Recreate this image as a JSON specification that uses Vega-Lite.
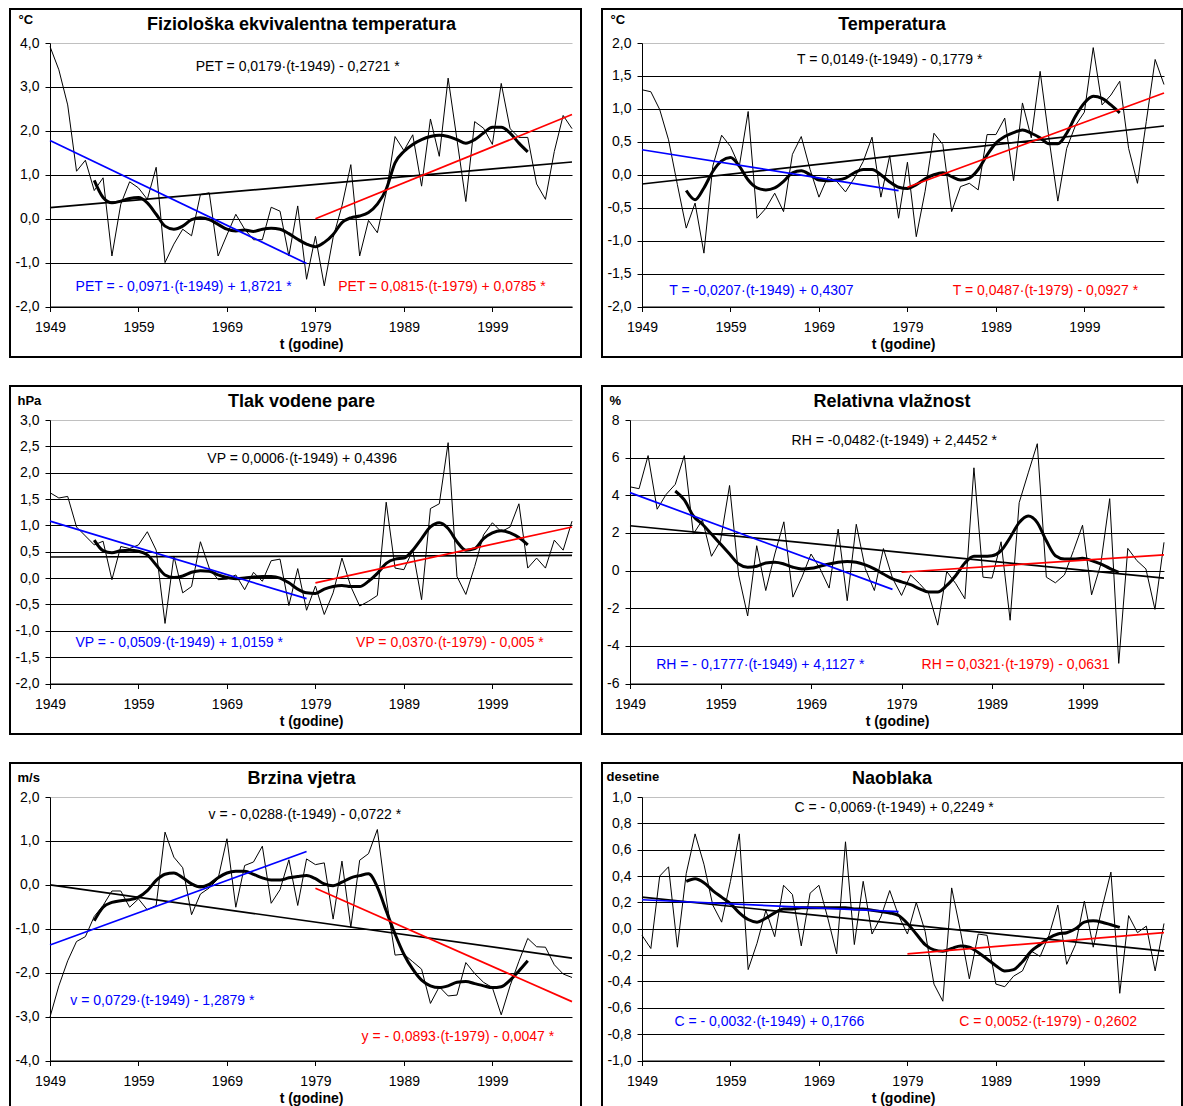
{
"$schema": "https://vega.github.io/schema/vega-lite/v6.json",
"padding": {"left": 9, "top": 8, "right": 0, "bottom": 0},
"config": {
 "view": {"stroke": "#000000", "strokeWidth": 2},
 "font": "Liberation Sans",
 "locale": {"number": {"decimal": ",", "thousands": ".", "grouping": [3], "currency": ["", ""], "minus": "-"}},
 "axis": {"labelFont": "Liberation Sans", "titleFont": "Liberation Sans", "labelColor": "#000000", "titleColor": "#000000", "domainColor": "#000000", "tickColor": "#000000", "labelFontSize": 14, "titleFontSize": 14, "titleFontWeight": "bold", "tickSize": 5, "domainWidth": 1, "tickWidth": 1, "gridWidth": 1, "labelOverlap": false},
 "axisX": {"labelPadding": 9, "titleY": 38, "titleBaseline": "middle"},
 "title": {"font": "Liberation Sans", "fontSize": 18, "fontWeight": "bold", "color": "#000000", "offset": 0, "baseline": "middle", "dy": 29}
},
"datasets": {
 "obs": [
  {"p":"PET","t":1949,"v":3.92},{"p":"PET","t":1950,"v":3.39},{"p":"PET","t":1951,"v":2.59},{"p":"PET","t":1952,"v":1.08},{"p":"PET","t":1953,"v":1.33},{"p":"PET","t":1954,"v":0.64},{"p":"PET","t":1955,"v":0.93},{"p":"PET","t":1956,"v":-0.85},{"p":"PET","t":1957,"v":0.33},{"p":"PET","t":1958,"v":0.84},
  {"p":"PET","t":1959,"v":0.70},{"p":"PET","t":1960,"v":0.44},{"p":"PET","t":1961,"v":1.17},{"p":"PET","t":1962,"v":-1.00},{"p":"PET","t":1963,"v":-0.58},{"p":"PET","t":1964,"v":-0.24},{"p":"PET","t":1965,"v":-0.39},{"p":"PET","t":1966,"v":0.55},{"p":"PET","t":1967,"v":0.59},{"p":"PET","t":1968,"v":-0.85},
  {"p":"PET","t":1969,"v":-0.37},{"p":"PET","t":1970,"v":0.10},{"p":"PET","t":1971,"v":-0.24},{"p":"PET","t":1972,"v":-0.48},{"p":"PET","t":1973,"v":-0.48},{"p":"PET","t":1974,"v":0.26},{"p":"PET","t":1975,"v":0.17},{"p":"PET","t":1976,"v":-0.85},{"p":"PET","t":1977,"v":0.29},{"p":"PET","t":1978,"v":-1.38},
  {"p":"PET","t":1979,"v":-0.40},{"p":"PET","t":1980,"v":-1.53},{"p":"PET","t":1981,"v":-0.43},{"p":"PET","t":1982,"v":0.29},{"p":"PET","t":1983,"v":1.23},{"p":"PET","t":1984,"v":-0.85},{"p":"PET","t":1985,"v":-0.04},{"p":"PET","t":1986,"v":-0.32},{"p":"PET","t":1987,"v":0.59},{"p":"PET","t":1988,"v":1.87},
  {"p":"PET","t":1989,"v":1.55},{"p":"PET","t":1990,"v":1.91},{"p":"PET","t":1991,"v":0.74},{"p":"PET","t":1992,"v":2.27},{"p":"PET","t":1993,"v":1.42},{"p":"PET","t":1994,"v":3.20},{"p":"PET","t":1995,"v":1.80},{"p":"PET","t":1996,"v":0.39},{"p":"PET","t":1997,"v":2.21},{"p":"PET","t":1998,"v":2.06},
  {"p":"PET","t":1999,"v":1.69},{"p":"PET","t":2000,"v":3.08},{"p":"PET","t":2001,"v":2.05},{"p":"PET","t":2002,"v":1.85},{"p":"PET","t":2003,"v":1.85},{"p":"PET","t":2004,"v":0.79},{"p":"PET","t":2005,"v":0.44},{"p":"PET","t":2006,"v":1.53},{"p":"PET","t":2007,"v":2.35},{"p":"PET","t":2008,"v":2.05},

  {"p":"T","t":1949,"v":1.29},{"p":"T","t":1950,"v":1.26},{"p":"T","t":1951,"v":0.99},{"p":"T","t":1952,"v":0.53},{"p":"T","t":1953,"v":-0.15},{"p":"T","t":1954,"v":-0.81},{"p":"T","t":1955,"v":-0.43},{"p":"T","t":1956,"v":-1.19},{"p":"T","t":1957,"v":0.13},{"p":"T","t":1958,"v":0.60},
  {"p":"T","t":1959,"v":0.43},{"p":"T","t":1960,"v":0.13},{"p":"T","t":1961,"v":0.96},{"p":"T","t":1962,"v":-0.66},{"p":"T","t":1963,"v":-0.51},{"p":"T","t":1964,"v":-0.28},{"p":"T","t":1965,"v":-0.56},{"p":"T","t":1966,"v":0.31},{"p":"T","t":1967,"v":0.58},{"p":"T","t":1968,"v":0.08},
  {"p":"T","t":1969,"v":-0.34},{"p":"T","t":1970,"v":-0.03},{"p":"T","t":1971,"v":-0.10},{"p":"T","t":1972,"v":-0.26},{"p":"T","t":1973,"v":-0.05},{"p":"T","t":1974,"v":0.20},{"p":"T","t":1975,"v":0.57},{"p":"T","t":1976,"v":-0.34},{"p":"T","t":1977,"v":0.29},{"p":"T","t":1978,"v":-0.66},
  {"p":"T","t":1979,"v":0.19},{"p":"T","t":1980,"v":-0.94},{"p":"T","t":1981,"v":-0.25},{"p":"T","t":1982,"v":0.63},{"p":"T","t":1983,"v":0.46},{"p":"T","t":1984,"v":-0.56},{"p":"T","t":1985,"v":-0.18},{"p":"T","t":1986,"v":-0.13},{"p":"T","t":1987,"v":-0.23},{"p":"T","t":1988,"v":0.61},
  {"p":"T","t":1989,"v":0.61},{"p":"T","t":1990,"v":0.86},{"p":"T","t":1991,"v":-0.09},{"p":"T","t":1992,"v":1.09},{"p":"T","t":1993,"v":0.56},{"p":"T","t":1994,"v":1.57},{"p":"T","t":1995,"v":0.55},{"p":"T","t":1996,"v":-0.40},{"p":"T","t":1997,"v":0.40},{"p":"T","t":1998,"v":0.75},
  {"p":"T","t":1999,"v":0.95},{"p":"T","t":2000,"v":1.93},{"p":"T","t":2001,"v":1.06},{"p":"T","t":2002,"v":1.21},{"p":"T","t":2003,"v":1.42},{"p":"T","t":2004,"v":0.40},{"p":"T","t":2005,"v":-0.13},{"p":"T","t":2006,"v":0.81},{"p":"T","t":2007,"v":1.75},{"p":"T","t":2008,"v":1.37},

  {"p":"VP","t":1949,"v":1.62},{"p":"VP","t":1950,"v":1.52},{"p":"VP","t":1951,"v":1.55},{"p":"VP","t":1952,"v":0.97},{"p":"VP","t":1953,"v":0.80},{"p":"VP","t":1954,"v":0.63},{"p":"VP","t":1955,"v":0.70},{"p":"VP","t":1956,"v":-0.03},{"p":"VP","t":1957,"v":0.60},{"p":"VP","t":1958,"v":0.56},
  {"p":"VP","t":1959,"v":0.63},{"p":"VP","t":1960,"v":0.88},{"p":"VP","t":1961,"v":0.53},{"p":"VP","t":1962,"v":-0.86},{"p":"VP","t":1963,"v":0.42},{"p":"VP","t":1964,"v":-0.28},{"p":"VP","t":1965,"v":-0.16},{"p":"VP","t":1966,"v":0.69},{"p":"VP","t":1967,"v":0.19},{"p":"VP","t":1968,"v":-0.03},
  {"p":"VP","t":1969,"v":-0.02},{"p":"VP","t":1970,"v":0.06},{"p":"VP","t":1971,"v":-0.22},{"p":"VP","t":1972,"v":0.11},{"p":"VP","t":1973,"v":-0.06},{"p":"VP","t":1974,"v":0.33},{"p":"VP","t":1975,"v":0.36},{"p":"VP","t":1976,"v":-0.52},{"p":"VP","t":1977,"v":0.18},{"p":"VP","t":1978,"v":-0.61},
  {"p":"VP","t":1979,"v":-0.15},{"p":"VP","t":1980,"v":-0.69},{"p":"VP","t":1981,"v":-0.28},{"p":"VP","t":1982,"v":0.38},{"p":"VP","t":1983,"v":-0.16},{"p":"VP","t":1984,"v":-0.53},{"p":"VP","t":1985,"v":-0.44},{"p":"VP","t":1986,"v":-0.33},{"p":"VP","t":1987,"v":1.44},{"p":"VP","t":1988,"v":0.19},
  {"p":"VP","t":1989,"v":0.16},{"p":"VP","t":1990,"v":0.53},{"p":"VP","t":1991,"v":-0.41},{"p":"VP","t":1992,"v":1.32},{"p":"VP","t":1993,"v":1.41},{"p":"VP","t":1994,"v":2.57},{"p":"VP","t":1995,"v":0.03},{"p":"VP","t":1996,"v":-0.31},{"p":"VP","t":1997,"v":0.22},{"p":"VP","t":1998,"v":0.82},
  {"p":"VP","t":1999,"v":1.05},{"p":"VP","t":2000,"v":0.88},{"p":"VP","t":2001,"v":0.97},{"p":"VP","t":2002,"v":1.41},{"p":"VP","t":2003,"v":0.19},{"p":"VP","t":2004,"v":0.38},{"p":"VP","t":2005,"v":0.19},{"p":"VP","t":2006,"v":0.72},{"p":"VP","t":2007,"v":0.53},{"p":"VP","t":2008,"v":1.08},

  {"p":"RH","t":1949,"v":4.45},{"p":"RH","t":1950,"v":4.35},{"p":"RH","t":1951,"v":6.11},{"p":"RH","t":1952,"v":3.26},{"p":"RH","t":1953,"v":4.05},{"p":"RH","t":1954,"v":4.58},{"p":"RH","t":1955,"v":6.11},{"p":"RH","t":1956,"v":1.94},{"p":"RH","t":1957,"v":2.69},{"p":"RH","t":1958,"v":0.76},
  {"p":"RH","t":1959,"v":1.58},{"p":"RH","t":1960,"v":4.52},{"p":"RH","t":1961,"v":-0.23},{"p":"RH","t":1962,"v":-2.41},{"p":"RH","t":1963,"v":1.32},{"p":"RH","t":1964,"v":-1.06},{"p":"RH","t":1965,"v":0.88},{"p":"RH","t":1966,"v":2.59},{"p":"RH","t":1967,"v":-1.41},{"p":"RH","t":1968,"v":-0.35},
  {"p":"RH","t":1969,"v":0.88},{"p":"RH","t":1970,"v":0.10},{"p":"RH","t":1971,"v":-0.93},{"p":"RH","t":1972,"v":2.20},{"p":"RH","t":1973,"v":-1.60},{"p":"RH","t":1974,"v":2.46},{"p":"RH","t":1975,"v":0.10},{"p":"RH","t":1976,"v":-1.06},{"p":"RH","t":1977,"v":1.17},{"p":"RH","t":1978,"v":-0.40},
  {"p":"RH","t":1979,"v":-1.32},{"p":"RH","t":1980,"v":-0.23},{"p":"RH","t":1981,"v":-0.70},{"p":"RH","t":1982,"v":-1.23},{"p":"RH","t":1983,"v":-2.90},{"p":"RH","t":1984,"v":-0.05},{"p":"RH","t":1985,"v":-0.70},{"p":"RH","t":1986,"v":-1.50},{"p":"RH","t":1987,"v":5.46},{"p":"RH","t":1988,"v":-0.35},
  {"p":"RH","t":1989,"v":-0.40},{"p":"RH","t":1990,"v":1.53},{"p":"RH","t":1991,"v":-2.64},{"p":"RH","t":1992,"v":3.61},{"p":"RH","t":1993,"v":5.19},{"p":"RH","t":1994,"v":6.74},{"p":"RH","t":1995,"v":-0.35},{"p":"RH","t":1996,"v":-0.65},{"p":"RH","t":1997,"v":-0.23},{"p":"RH","t":1998,"v":1.06},
  {"p":"RH","t":1999,"v":2.41},{"p":"RH","t":2000,"v":-1.29},{"p":"RH","t":2001,"v":0.30},{"p":"RH","t":2002,"v":3.82},{"p":"RH","t":2003,"v":-4.93},{"p":"RH","t":2004,"v":1.18},{"p":"RH","t":2005,"v":0.53},{"p":"RH","t":2006,"v":0.09},{"p":"RH","t":2007,"v":-2.06},{"p":"RH","t":2008,"v":1.50},

  {"p":"W","t":1949,"v":-3.01},{"p":"W","t":1950,"v":-2.30},{"p":"W","t":1951,"v":-1.73},{"p":"W","t":1952,"v":-1.29},{"p":"W","t":1953,"v":-1.18},{"p":"W","t":1954,"v":-0.72},{"p":"W","t":1955,"v":-0.47},{"p":"W","t":1956,"v":-0.14},{"p":"W","t":1957,"v":-0.14},{"p":"W","t":1958,"v":-0.51},
  {"p":"W","t":1959,"v":-0.32},{"p":"W","t":1960,"v":-0.57},{"p":"W","t":1961,"v":-0.47},{"p":"W","t":1962,"v":1.20},{"p":"W","t":1963,"v":0.63},{"p":"W","t":1964,"v":0.39},{"p":"W","t":1965,"v":-0.68},{"p":"W","t":1966,"v":-0.21},{"p":"W","t":1967,"v":-0.07},{"p":"W","t":1968,"v":0.14},
  {"p":"W","t":1969,"v":1.05},{"p":"W","t":1970,"v":-0.51},{"p":"W","t":1971,"v":0.44},{"p":"W","t":1972,"v":0.52},{"p":"W","t":1973,"v":0.88},{"p":"W","t":1974,"v":-0.42},{"p":"W","t":1975,"v":-0.11},{"p":"W","t":1976,"v":0.57},{"p":"W","t":1977,"v":-0.47},{"p":"W","t":1978,"v":0.59},
  {"p":"W","t":1979,"v":0.46},{"p":"W","t":1980,"v":0.50},{"p":"W","t":1981,"v":-0.78},{"p":"W","t":1982,"v":0.54},{"p":"W","t":1983,"v":-0.97},{"p":"W","t":1984,"v":0.56},{"p":"W","t":1985,"v":0.71},{"p":"W","t":1986,"v":1.26},{"p":"W","t":1987,"v":-0.30},{"p":"W","t":1988,"v":-1.60},
  {"p":"W","t":1989,"v":-1.58},{"p":"W","t":1990,"v":-1.75},{"p":"W","t":1991,"v":-1.92},{"p":"W","t":1992,"v":-2.70},{"p":"W","t":1993,"v":-2.32},{"p":"W","t":1994,"v":-2.53},{"p":"W","t":1995,"v":-2.51},{"p":"W","t":1996,"v":-1.77},{"p":"W","t":1997,"v":-2.02},{"p":"W","t":1998,"v":-2.22},
  {"p":"W","t":1999,"v":-2.34},{"p":"W","t":2000,"v":-2.96},{"p":"W","t":2001,"v":-2.30},{"p":"W","t":2002,"v":-1.74},{"p":"W","t":2003,"v":-1.22},{"p":"W","t":2004,"v":-1.41},{"p":"W","t":2005,"v":-1.42},{"p":"W","t":2006,"v":-1.82},{"p":"W","t":2007,"v":-2.03},{"p":"W","t":2008,"v":-2.11},

  {"p":"C","t":1949,"v":-0.05},{"p":"C","t":1950,"v":-0.15},{"p":"C","t":1951,"v":0.40},{"p":"C","t":1952,"v":0.47},{"p":"C","t":1953,"v":-0.14},{"p":"C","t":1954,"v":0.42},{"p":"C","t":1955,"v":0.72},{"p":"C","t":1956,"v":0.49},{"p":"C","t":1957,"v":0.18},{"p":"C","t":1958,"v":0.05},
  {"p":"C","t":1959,"v":0.36},{"p":"C","t":1960,"v":0.72},{"p":"C","t":1961,"v":-0.31},{"p":"C","t":1962,"v":-0.11},{"p":"C","t":1963,"v":0.14},{"p":"C","t":1964,"v":-0.06},{"p":"C","t":1965,"v":0.33},{"p":"C","t":1966,"v":0.26},{"p":"C","t":1967,"v":-0.13},{"p":"C","t":1968,"v":0.27},
  {"p":"C","t":1969,"v":0.33},{"p":"C","t":1970,"v":0.08},{"p":"C","t":1971,"v":-0.19},{"p":"C","t":1972,"v":0.66},{"p":"C","t":1973,"v":-0.12},{"p":"C","t":1974,"v":0.36},{"p":"C","t":1975,"v":-0.04},{"p":"C","t":1976,"v":0.09},{"p":"C","t":1977,"v":0.29},{"p":"C","t":1978,"v":0.10},
  {"p":"C","t":1979,"v":-0.04},{"p":"C","t":1980,"v":0.20},{"p":"C","t":1981,"v":-0.02},{"p":"C","t":1982,"v":-0.42},{"p":"C","t":1983,"v":-0.55},{"p":"C","t":1984,"v":0.31},{"p":"C","t":1985,"v":-0.02},{"p":"C","t":1986,"v":-0.38},{"p":"C","t":1987,"v":-0.04},{"p":"C","t":1988,"v":-0.05},
  {"p":"C","t":1989,"v":-0.42},{"p":"C","t":1990,"v":-0.44},{"p":"C","t":1991,"v":-0.36},{"p":"C","t":1992,"v":-0.32},{"p":"C","t":1993,"v":-0.17},{"p":"C","t":1994,"v":-0.21},{"p":"C","t":1995,"v":-0.05},{"p":"C","t":1996,"v":0.18},{"p":"C","t":1997,"v":-0.27},{"p":"C","t":1998,"v":-0.12},
  {"p":"C","t":1999,"v":0.21},{"p":"C","t":2000,"v":-0.14},{"p":"C","t":2001,"v":0.16},{"p":"C","t":2002,"v":0.43},{"p":"C","t":2003,"v":-0.49},{"p":"C","t":2004,"v":0.10},{"p":"C","t":2005,"v":-0.03},{"p":"C","t":2006,"v":0.02},{"p":"C","t":2007,"v":-0.32},{"p":"C","t":2008,"v":0.04}
 ],
 "smooth": [
  {"p":"PET","t":1954,"v":0.87},{"p":"PET","t":1955,"v":0.48},{"p":"PET","t":1956,"v":0.36},{"p":"PET","t":1957,"v":0.40},{"p":"PET","t":1958,"v":0.46},{"p":"PET","t":1959,"v":0.48},{"p":"PET","t":1960,"v":0.36},{"p":"PET","t":1961,"v":0.10},{"p":"PET","t":1962,"v":-0.17},{"p":"PET","t":1963,"v":-0.24},
  {"p":"PET","t":1964,"v":-0.17},{"p":"PET","t":1965,"v":-0.02},{"p":"PET","t":1966,"v":0.02},{"p":"PET","t":1967,"v":-0.02},{"p":"PET","t":1968,"v":-0.13},{"p":"PET","t":1969,"v":-0.24},{"p":"PET","t":1970,"v":-0.28},{"p":"PET","t":1971,"v":-0.26},{"p":"PET","t":1972,"v":-0.29},{"p":"PET","t":1973,"v":-0.24},
  {"p":"PET","t":1974,"v":-0.22},{"p":"PET","t":1975,"v":-0.24},{"p":"PET","t":1976,"v":-0.34},{"p":"PET","t":1977,"v":-0.47},{"p":"PET","t":1978,"v":-0.58},{"p":"PET","t":1979,"v":-0.64},{"p":"PET","t":1980,"v":-0.54},{"p":"PET","t":1981,"v":-0.36},{"p":"PET","t":1982,"v":-0.09},{"p":"PET","t":1983,"v":0.02},
  {"p":"PET","t":1984,"v":0.06},{"p":"PET","t":1985,"v":0.14},{"p":"PET","t":1986,"v":0.33},{"p":"PET","t":1987,"v":0.67},{"p":"PET","t":1988,"v":1.27},{"p":"PET","t":1989,"v":1.53},{"p":"PET","t":1990,"v":1.69},{"p":"PET","t":1991,"v":1.80},{"p":"PET","t":1992,"v":1.87},{"p":"PET","t":1993,"v":1.90},
  {"p":"PET","t":1994,"v":1.87},{"p":"PET","t":1995,"v":1.80},{"p":"PET","t":1996,"v":1.72},{"p":"PET","t":1997,"v":1.80},{"p":"PET","t":1998,"v":1.95},{"p":"PET","t":1999,"v":2.08},{"p":"PET","t":2000,"v":2.08},{"p":"PET","t":2001,"v":1.95},{"p":"PET","t":2002,"v":1.72},{"p":"PET","t":2003,"v":1.52},

  {"p":"T","t":1954,"v":-0.24},{"p":"T","t":1955,"v":-0.38},{"p":"T","t":1956,"v":-0.20},{"p":"T","t":1957,"v":0.05},{"p":"T","t":1958,"v":0.21},{"p":"T","t":1959,"v":0.26},{"p":"T","t":1960,"v":0.13},{"p":"T","t":1961,"v":-0.08},{"p":"T","t":1962,"v":-0.20},{"p":"T","t":1963,"v":-0.23},
  {"p":"T","t":1964,"v":-0.20},{"p":"T","t":1965,"v":-0.10},{"p":"T","t":1966,"v":0.03},{"p":"T","t":1967,"v":0.06},{"p":"T","t":1968,"v":0.00},{"p":"T","t":1969,"v":-0.08},{"p":"T","t":1970,"v":-0.09},{"p":"T","t":1971,"v":-0.08},{"p":"T","t":1972,"v":-0.05},{"p":"T","t":1973,"v":0.03},
  {"p":"T","t":1974,"v":0.08},{"p":"T","t":1975,"v":0.08},{"p":"T","t":1976,"v":0.00},{"p":"T","t":1977,"v":-0.11},{"p":"T","t":1978,"v":-0.19},{"p":"T","t":1979,"v":-0.21},{"p":"T","t":1980,"v":-0.15},{"p":"T","t":1981,"v":-0.06},{"p":"T","t":1982,"v":0.00},{"p":"T","t":1983,"v":0.03},
  {"p":"T","t":1984,"v":-0.03},{"p":"T","t":1985,"v":-0.08},{"p":"T","t":1986,"v":-0.05},{"p":"T","t":1987,"v":0.08},{"p":"T","t":1988,"v":0.30},{"p":"T","t":1989,"v":0.48},{"p":"T","t":1990,"v":0.58},{"p":"T","t":1991,"v":0.64},{"p":"T","t":1992,"v":0.68},{"p":"T","t":1993,"v":0.63},
  {"p":"T","t":1994,"v":0.56},{"p":"T","t":1995,"v":0.47},{"p":"T","t":1996,"v":0.47},{"p":"T","t":1997,"v":0.63},{"p":"T","t":1998,"v":0.89},{"p":"T","t":1999,"v":1.09},{"p":"T","t":2000,"v":1.19},{"p":"T","t":2001,"v":1.16},{"p":"T","t":2002,"v":1.06},{"p":"T","t":2003,"v":0.94},

  {"p":"VP","t":1954,"v":0.72},{"p":"VP","t":1955,"v":0.52},{"p":"VP","t":1956,"v":0.48},{"p":"VP","t":1957,"v":0.52},{"p":"VP","t":1958,"v":0.53},{"p":"VP","t":1959,"v":0.51},{"p":"VP","t":1960,"v":0.44},{"p":"VP","t":1961,"v":0.25},{"p":"VP","t":1962,"v":0.06},{"p":"VP","t":1963,"v":0.01},
  {"p":"VP","t":1964,"v":0.04},{"p":"VP","t":1965,"v":0.11},{"p":"VP","t":1966,"v":0.14},{"p":"VP","t":1967,"v":0.13},{"p":"VP","t":1968,"v":0.06},{"p":"VP","t":1969,"v":0.01},{"p":"VP","t":1970,"v":-0.01},{"p":"VP","t":1971,"v":0.00},{"p":"VP","t":1972,"v":0.02},{"p":"VP","t":1973,"v":0.03},
  {"p":"VP","t":1974,"v":0.03},{"p":"VP","t":1975,"v":0.00},{"p":"VP","t":1976,"v":-0.09},{"p":"VP","t":1977,"v":-0.21},{"p":"VP","t":1978,"v":-0.28},{"p":"VP","t":1979,"v":-0.29},{"p":"VP","t":1980,"v":-0.21},{"p":"VP","t":1981,"v":-0.16},{"p":"VP","t":1982,"v":-0.14},{"p":"VP","t":1983,"v":-0.16},
  {"p":"VP","t":1984,"v":-0.16},{"p":"VP","t":1985,"v":-0.06},{"p":"VP","t":1986,"v":0.09},{"p":"VP","t":1987,"v":0.28},{"p":"VP","t":1988,"v":0.36},{"p":"VP","t":1989,"v":0.38},{"p":"VP","t":1990,"v":0.53},{"p":"VP","t":1991,"v":0.75},{"p":"VP","t":1992,"v":0.97},{"p":"VP","t":1993,"v":1.05},
  {"p":"VP","t":1994,"v":0.94},{"p":"VP","t":1995,"v":0.69},{"p":"VP","t":1996,"v":0.53},{"p":"VP","t":1997,"v":0.56},{"p":"VP","t":1998,"v":0.75},{"p":"VP","t":1999,"v":0.86},{"p":"VP","t":2000,"v":0.90},{"p":"VP","t":2001,"v":0.86},{"p":"VP","t":2002,"v":0.77},{"p":"VP","t":2003,"v":0.63},

  {"p":"RH","t":1954,"v":4.23},{"p":"RH","t":1955,"v":3.75},{"p":"RH","t":1956,"v":2.90},{"p":"RH","t":1957,"v":2.46},{"p":"RH","t":1958,"v":1.94},{"p":"RH","t":1959,"v":1.41},{"p":"RH","t":1960,"v":0.88},{"p":"RH","t":1961,"v":0.35},{"p":"RH","t":1962,"v":0.18},{"p":"RH","t":1963,"v":0.23},
  {"p":"RH","t":1964,"v":0.40},{"p":"RH","t":1965,"v":0.44},{"p":"RH","t":1966,"v":0.35},{"p":"RH","t":1967,"v":0.18},{"p":"RH","t":1968,"v":0.09},{"p":"RH","t":1969,"v":0.12},{"p":"RH","t":1970,"v":0.23},{"p":"RH","t":1971,"v":0.35},{"p":"RH","t":1972,"v":0.44},{"p":"RH","t":1973,"v":0.48},
  {"p":"RH","t":1974,"v":0.44},{"p":"RH","t":1975,"v":0.30},{"p":"RH","t":1976,"v":0.09},{"p":"RH","t":1977,"v":-0.18},{"p":"RH","t":1978,"v":-0.44},{"p":"RH","t":1979,"v":-0.60},{"p":"RH","t":1980,"v":-0.75},{"p":"RH","t":1981,"v":-0.97},{"p":"RH","t":1982,"v":-1.14},{"p":"RH","t":1983,"v":-1.14},
  {"p":"RH","t":1984,"v":-0.79},{"p":"RH","t":1985,"v":-0.26},{"p":"RH","t":1986,"v":0.40},{"p":"RH","t":1987,"v":0.76},{"p":"RH","t":1988,"v":0.76},{"p":"RH","t":1989,"v":0.79},{"p":"RH","t":1990,"v":1.06},{"p":"RH","t":1991,"v":1.76},{"p":"RH","t":1992,"v":2.55},{"p":"RH","t":1993,"v":2.90},
  {"p":"RH","t":1994,"v":2.55},{"p":"RH","t":1995,"v":1.58},{"p":"RH","t":1996,"v":0.79},{"p":"RH","t":1997,"v":0.62},{"p":"RH","t":1998,"v":0.62},{"p":"RH","t":1999,"v":0.65},{"p":"RH","t":2000,"v":0.53},{"p":"RH","t":2001,"v":0.35},{"p":"RH","t":2002,"v":0.12},{"p":"RH","t":2003,"v":-0.09},

  {"p":"W","t":1954,"v":-0.82},{"p":"W","t":1955,"v":-0.51},{"p":"W","t":1956,"v":-0.40},{"p":"W","t":1957,"v":-0.36},{"p":"W","t":1958,"v":-0.34},{"p":"W","t":1959,"v":-0.28},{"p":"W","t":1960,"v":-0.13},{"p":"W","t":1961,"v":0.10},{"p":"W","t":1962,"v":0.24},{"p":"W","t":1963,"v":0.27},
  {"p":"W","t":1964,"v":0.16},{"p":"W","t":1965,"v":0.02},{"p":"W","t":1966,"v":-0.05},{"p":"W","t":1967,"v":0.01},{"p":"W","t":1968,"v":0.16},{"p":"W","t":1969,"v":0.27},{"p":"W","t":1970,"v":0.31},{"p":"W","t":1971,"v":0.31},{"p":"W","t":1972,"v":0.24},{"p":"W","t":1973,"v":0.16},
  {"p":"W","t":1974,"v":0.11},{"p":"W","t":1975,"v":0.11},{"p":"W","t":1976,"v":0.16},{"p":"W","t":1977,"v":0.19},{"p":"W","t":1978,"v":0.21},{"p":"W","t":1979,"v":0.14},{"p":"W","t":1980,"v":0.02},{"p":"W","t":1981,"v":-0.02},{"p":"W","t":1982,"v":0.06},{"p":"W","t":1983,"v":0.16},
  {"p":"W","t":1984,"v":0.21},{"p":"W","t":1985,"v":0.25},{"p":"W","t":1986,"v":-0.05},{"p":"W","t":1987,"v":-0.59},{"p":"W","t":1988,"v":-1.12},{"p":"W","t":1989,"v":-1.58},{"p":"W","t":1990,"v":-1.92},{"p":"W","t":1991,"v":-2.17},{"p":"W","t":1992,"v":-2.30},{"p":"W","t":1993,"v":-2.34},
  {"p":"W","t":1994,"v":-2.30},{"p":"W","t":1995,"v":-2.22},{"p":"W","t":1996,"v":-2.20},{"p":"W","t":1997,"v":-2.25},{"p":"W","t":1998,"v":-2.30},{"p":"W","t":1999,"v":-2.34},{"p":"W","t":2000,"v":-2.32},{"p":"W","t":2001,"v":-2.17},{"p":"W","t":2002,"v":-1.96},{"p":"W","t":2003,"v":-1.73},

  {"p":"C","t":1954,"v":0.36},{"p":"C","t":1955,"v":0.38},{"p":"C","t":1956,"v":0.35},{"p":"C","t":1957,"v":0.29},{"p":"C","t":1958,"v":0.24},{"p":"C","t":1959,"v":0.19},{"p":"C","t":1960,"v":0.12},{"p":"C","t":1961,"v":0.07},{"p":"C","t":1962,"v":0.05},{"p":"C","t":1963,"v":0.08},
  {"p":"C","t":1964,"v":0.12},{"p":"C","t":1965,"v":0.15},{"p":"C","t":1966,"v":0.15},{"p":"C","t":1967,"v":0.16},{"p":"C","t":1968,"v":0.16},{"p":"C","t":1969,"v":0.16},{"p":"C","t":1970,"v":0.16},{"p":"C","t":1971,"v":0.16},{"p":"C","t":1972,"v":0.16},{"p":"C","t":1973,"v":0.15},
  {"p":"C","t":1974,"v":0.15},{"p":"C","t":1975,"v":0.14},{"p":"C","t":1976,"v":0.13},{"p":"C","t":1977,"v":0.12},{"p":"C","t":1978,"v":0.10},{"p":"C","t":1979,"v":0.04},{"p":"C","t":1980,"v":-0.04},{"p":"C","t":1981,"v":-0.12},{"p":"C","t":1982,"v":-0.16},{"p":"C","t":1983,"v":-0.17},
  {"p":"C","t":1984,"v":-0.15},{"p":"C","t":1985,"v":-0.13},{"p":"C","t":1986,"v":-0.14},{"p":"C","t":1987,"v":-0.18},{"p":"C","t":1988,"v":-0.23},{"p":"C","t":1989,"v":-0.28},{"p":"C","t":1990,"v":-0.32},{"p":"C","t":1991,"v":-0.31},{"p":"C","t":1992,"v":-0.25},{"p":"C","t":1993,"v":-0.17},
  {"p":"C","t":1994,"v":-0.12},{"p":"C","t":1995,"v":-0.07},{"p":"C","t":1996,"v":-0.04},{"p":"C","t":1997,"v":-0.03},{"p":"C","t":1998,"v":0.00},{"p":"C","t":1999,"v":0.05},{"p":"C","t":2000,"v":0.06},{"p":"C","t":2001,"v":0.05},{"p":"C","t":2002,"v":0.03},{"p":"C","t":2003,"v":0.01}
 ],
 "trend": [
  {"p":"PET","k":"all","t":1949,"v":0.25},{"p":"PET","k":"all","t":2008,"v":1.29},{"p":"PET","k":"early","t":1949,"v":1.78},{"p":"PET","k":"early","t":1978,"v":-1.02},{"p":"PET","k":"late","t":1979,"v":0.00},{"p":"PET","k":"late","t":2008,"v":2.37},
  {"p":"T","k":"all","t":1949,"v":-0.14},{"p":"T","k":"all","t":2008,"v":0.74},{"p":"T","k":"early","t":1949,"v":0.38},{"p":"T","k":"early","t":1978,"v":-0.24},{"p":"T","k":"late","t":1979,"v":-0.19},{"p":"T","k":"late","t":2008,"v":1.24},
  {"p":"VP","k":"all","t":1949,"v":0.40},{"p":"VP","k":"all","t":2008,"v":0.43},{"p":"VP","k":"early","t":1949,"v":1.08},{"p":"VP","k":"early","t":1978,"v":-0.39},{"p":"VP","k":"late","t":1979,"v":-0.09},{"p":"VP","k":"late","t":2008,"v":0.97},
  {"p":"RH","k":"all","t":1949,"v":2.38},{"p":"RH","k":"all","t":2008,"v":-0.40},{"p":"RH","k":"early","t":1949,"v":4.14},{"p":"RH","k":"early","t":1978,"v":-1.00},{"p":"RH","k":"late","t":1979,"v":-0.09},{"p":"RH","k":"late","t":2008,"v":0.83},
  {"p":"W","k":"all","t":1949,"v":0.00},{"p":"W","k":"all","t":2008,"v":-1.67},{"p":"W","k":"early","t":1949,"v":-1.37},{"p":"W","k":"early","t":1978,"v":0.76},{"p":"W","k":"late","t":1979,"v":-0.08},{"p":"W","k":"late","t":2008,"v":-2.66},
  {"p":"C","k":"all","t":1949,"v":0.24},{"p":"C","k":"all","t":2008,"v":-0.17},{"p":"C","k":"early","t":1949,"v":0.22},{"p":"C","k":"early","t":1978,"v":0.13},{"p":"C","k":"late","t":1979,"v":-0.19},{"p":"C","k":"late","t":2008,"v":-0.03}
 ],
 "eq": [
  {"p":"PET","k":"all","t":1977.0,"v":3.46,"label":"PET = 0,0179·(t-1949) - 0,2721 *"},
  {"p":"PET","k":"early","t":1964.1,"v":-1.55,"label":"PET = - 0,0971·(t-1949) + 1,8721 *"},
  {"p":"PET","k":"late","t":1993.3,"v":-1.55,"label":"PET = 0,0815·(t-1979) + 0,0785 *"},
  {"p":"T","k":"all","t":1977.0,"v":1.74,"label":"T = 0,0149·(t-1949) - 0,1779 *"},
  {"p":"T","k":"early","t":1962.5,"v":-1.765,"label":"T = -0,0207·(t-1949) + 0,4307"},
  {"p":"T","k":"late","t":1994.6,"v":-1.765,"label":"T = 0,0487·(t-1979) - 0,0927 *"},
  {"p":"VP","k":"all","t":1977.5,"v":2.26,"label":"VP = 0,0006·(t-1949) + 0,4396"},
  {"p":"VP","k":"early","t":1963.6,"v":-1.24,"label":"VP = - 0,0509·(t-1949) + 1,0159 *"},
  {"p":"VP","k":"late","t":1994.2,"v":-1.24,"label":"VP = 0,0370·(t-1979) - 0,005 *"},
  {"p":"RH","k":"all","t":1978.2,"v":6.88,"label":"RH = -0,0482·(t-1949) + 2,4452 *"},
  {"p":"RH","k":"early","t":1963.4,"v":-5.04,"label":"RH = - 0,1777·(t-1949) + 4,1127 *"},
  {"p":"RH","k":"late","t":1991.6,"v":-5.04,"label":"RH = 0,0321·(t-1979) - 0,0631"},
  {"p":"W","k":"all","t":1977.8,"v":1.58,"label":"v = - 0,0288·(t-1949) - 0,0722 *"},
  {"p":"W","k":"early","t":1961.7,"v":-2.64,"label":"v = 0,0729·(t-1949) - 1,2879 *"},
  {"p":"W","k":"late","t":1995.1,"v":-3.47,"label":"y = - 0,0893·(t-1979) - 0,0047 *"},
  {"p":"C","k":"all","t":1977.5,"v":0.916,"label":"C = - 0,0069·(t-1949) + 0,2249 *"},
  {"p":"C","k":"early","t":1963.4,"v":-0.708,"label":"C = - 0,0032·(t-1949) + 0,1766"},
  {"p":"C","k":"late","t":1994.9,"v":-0.708,"label":"C = 0,0052·(t-1979) - 0,2602"}
 ]
},
"vconcat": [
 {"hconcat": [
  {"width": 571, "height": 348,
   "title": {"text": "Fiziološka ekvivalentna temperatura", "dx": 6},
   "encoding": {
    "x": {"field": "t", "type": "quantitative", "scale": {"domain": [1949, 2008], "range": [40, 562], "nice": false, "zero": false},
          "axis": {"values": [1949,1959,1969,1979,1989,1999], "format": "d", "offset": -50.5, "title": "t (godine)", "labelFlush": false, "grid": false}},
    "y": {"field": "v", "type": "quantitative", "scale": {"domain": [-2, 4], "range": [297.5, 34], "nice": false, "zero": false},
          "axis": {"values": [-2,-1,0,1,2,3,4], "format": ".1f", "offset": -40, "labelPadding": 6, "title": "°C", "titleAngle": 0, "titleAlign": "left", "titleBaseline": "middle", "titleX": -32, "titleY": 10, "titleFontSize": 13,
                   "gridColor": {"condition": {"test": "datum.value === 4", "value": "#c0c0c0"}, "value": "#000000"}}}
   },
   "layer": [
    {"data": {"name": "obs"}, "transform": [{"filter": "datum.p === 'PET'"}], "mark": {"type": "line", "stroke": "#000000", "strokeWidth": 1}},
    {"data": {"name": "smooth"}, "transform": [{"filter": "datum.p === 'PET'"}], "mark": {"type": "line", "stroke": "#000000", "strokeWidth": 3, "interpolate": "monotone"}},
    {"data": {"name": "trend"}, "transform": [{"filter": "datum.p === 'PET'"}], "mark": {"type": "line", "strokeWidth": 1.7},
     "encoding": {"color": {"field": "k", "type": "nominal", "scale": {"domain": ["all","early","late"], "range": ["#000000","#0000ff","#ff0000"]}, "legend": null}}},
    {"data": {"name": "eq"}, "transform": [{"filter": "datum.p === 'PET'"}], "mark": {"type": "text", "fontSize": 14, "font": "Liberation Sans"},
     "encoding": {"text": {"field": "label"}, "color": {"field": "k", "type": "nominal", "scale": {"domain": ["all","early","late"], "range": ["#000000","#0000ff","#ff0000"]}, "legend": null}}}
   ]},
  {"width": 580, "height": 348,
   "title": {"text": "Temperatura", "dx": 0},
   "encoding": {
    "x": {"field": "t", "type": "quantitative", "scale": {"domain": [1949, 2008], "range": [40, 562], "nice": false, "zero": false},
          "axis": {"values": [1949,1959,1969,1979,1989,1999], "format": "d", "offset": -50.5, "title": "t (godine)", "labelFlush": false, "grid": false}},
    "y": {"field": "v", "type": "quantitative", "scale": {"domain": [-2, 2], "range": [297.5, 34], "nice": false, "zero": false},
          "axis": {"values": [-2,-1.5,-1,-0.5,0,0.5,1,1.5,2], "format": ".1f", "offset": -40, "labelPadding": 6, "title": "°C", "titleAngle": 0, "titleAlign": "left", "titleBaseline": "middle", "titleX": -32, "titleY": 10, "titleFontSize": 13,
                   "gridColor": {"condition": {"test": "datum.value === 2", "value": "#c0c0c0"}, "value": "#000000"}}}
   },
   "layer": [
    {"data": {"name": "obs"}, "transform": [{"filter": "datum.p === 'T'"}], "mark": {"type": "line", "stroke": "#000000", "strokeWidth": 1}},
    {"data": {"name": "smooth"}, "transform": [{"filter": "datum.p === 'T'"}], "mark": {"type": "line", "stroke": "#000000", "strokeWidth": 3, "interpolate": "monotone"}},
    {"data": {"name": "trend"}, "transform": [{"filter": "datum.p === 'T'"}], "mark": {"type": "line", "strokeWidth": 1.7},
     "encoding": {"color": {"field": "k", "type": "nominal", "scale": {"domain": ["all","early","late"], "range": ["#000000","#0000ff","#ff0000"]}, "legend": null}}},
    {"data": {"name": "eq"}, "transform": [{"filter": "datum.p === 'T'"}], "mark": {"type": "text", "fontSize": 14, "font": "Liberation Sans"},
     "encoding": {"text": {"field": "label"}, "color": {"field": "k", "type": "nominal", "scale": {"domain": ["all","early","late"], "range": ["#000000","#0000ff","#ff0000"]}, "legend": null}}}
   ]}
 ], "spacing": 21, "bounds": "flush"},
 {"hconcat": [
  {"width": 571, "height": 348,
   "title": {"text": "Tlak vodene pare", "dx": 6},
   "encoding": {
    "x": {"field": "t", "type": "quantitative", "scale": {"domain": [1949, 2008], "range": [40, 562], "nice": false, "zero": false},
          "axis": {"values": [1949,1959,1969,1979,1989,1999], "format": "d", "offset": -50.5, "title": "t (godine)", "labelFlush": false, "grid": false}},
    "y": {"field": "v", "type": "quantitative", "scale": {"domain": [-2, 3], "range": [297.5, 34], "nice": false, "zero": false},
          "axis": {"values": [-2,-1.5,-1,-0.5,0,0.5,1,1.5,2,2.5,3], "format": ".1f", "offset": -40, "labelPadding": 6, "title": "hPa", "titleAngle": 0, "titleAlign": "left", "titleBaseline": "middle", "titleX": -33, "titleY": 14, "titleFontSize": 13,
                   "gridColor": {"condition": {"test": "datum.value === 3", "value": "#c0c0c0"}, "value": "#000000"}}}
   },
   "layer": [
    {"data": {"name": "obs"}, "transform": [{"filter": "datum.p === 'VP'"}], "mark": {"type": "line", "stroke": "#000000", "strokeWidth": 1}},
    {"data": {"name": "smooth"}, "transform": [{"filter": "datum.p === 'VP'"}], "mark": {"type": "line", "stroke": "#000000", "strokeWidth": 3, "interpolate": "monotone"}},
    {"data": {"name": "trend"}, "transform": [{"filter": "datum.p === 'VP'"}], "mark": {"type": "line", "strokeWidth": 1.7},
     "encoding": {"color": {"field": "k", "type": "nominal", "scale": {"domain": ["all","early","late"], "range": ["#000000","#0000ff","#ff0000"]}, "legend": null}}},
    {"data": {"name": "eq"}, "transform": [{"filter": "datum.p === 'VP'"}], "mark": {"type": "text", "fontSize": 14, "font": "Liberation Sans"},
     "encoding": {"text": {"field": "label"}, "color": {"field": "k", "type": "nominal", "scale": {"domain": ["all","early","late"], "range": ["#000000","#0000ff","#ff0000"]}, "legend": null}}}
   ]},
  {"width": 580, "height": 348,
   "title": {"text": "Relativna vlažnost", "dx": 0},
   "encoding": {
    "x": {"field": "t", "type": "quantitative", "scale": {"domain": [1949, 2008], "range": [28, 562], "nice": false, "zero": false},
          "axis": {"values": [1949,1959,1969,1979,1989,1999], "format": "d", "offset": -50.5, "title": "t (godine)", "labelFlush": false, "grid": false}},
    "y": {"field": "v", "type": "quantitative", "scale": {"domain": [-6, 8], "range": [297.5, 34], "nice": false, "zero": false},
          "axis": {"values": [-6,-4,-2,0,2,4,6,8], "format": "d", "offset": -28, "labelPadding": 6, "title": "%", "titleAngle": 0, "titleAlign": "left", "titleBaseline": "middle", "titleX": -21, "titleY": 14, "titleFontSize": 13,
                   "gridColor": {"condition": {"test": "datum.value === 8", "value": "#c0c0c0"}, "value": "#000000"}}}
   },
   "layer": [
    {"data": {"name": "obs"}, "transform": [{"filter": "datum.p === 'RH'"}], "mark": {"type": "line", "stroke": "#000000", "strokeWidth": 1}},
    {"data": {"name": "smooth"}, "transform": [{"filter": "datum.p === 'RH'"}], "mark": {"type": "line", "stroke": "#000000", "strokeWidth": 3, "interpolate": "monotone"}},
    {"data": {"name": "trend"}, "transform": [{"filter": "datum.p === 'RH'"}], "mark": {"type": "line", "strokeWidth": 1.7},
     "encoding": {"color": {"field": "k", "type": "nominal", "scale": {"domain": ["all","early","late"], "range": ["#000000","#0000ff","#ff0000"]}, "legend": null}}},
    {"data": {"name": "eq"}, "transform": [{"filter": "datum.p === 'RH'"}], "mark": {"type": "text", "fontSize": 14, "font": "Liberation Sans"},
     "encoding": {"text": {"field": "label"}, "color": {"field": "k", "type": "nominal", "scale": {"domain": ["all","early","late"], "range": ["#000000","#0000ff","#ff0000"]}, "legend": null}}}
   ]}
 ], "spacing": 21, "bounds": "flush"},
 {"hconcat": [
  {"width": 571, "height": 348,
   "title": {"text": "Brzina vjetra", "dx": 6},
   "encoding": {
    "x": {"field": "t", "type": "quantitative", "scale": {"domain": [1949, 2008], "range": [40, 562], "nice": false, "zero": false},
          "axis": {"values": [1949,1959,1969,1979,1989,1999], "format": "d", "offset": -50.5, "title": "t (godine)", "labelFlush": false, "grid": false}},
    "y": {"field": "v", "type": "quantitative", "scale": {"domain": [-4, 2], "range": [297.5, 34], "nice": false, "zero": false},
          "axis": {"values": [-4,-3,-2,-1,0,1,2], "format": ".1f", "offset": -40, "labelPadding": 6, "title": "m/s", "titleAngle": 0, "titleAlign": "left", "titleBaseline": "middle", "titleX": -33, "titleY": 14, "titleFontSize": 13,
                   "gridColor": {"condition": {"test": "datum.value === 2", "value": "#c0c0c0"}, "value": "#000000"}}}
   },
   "layer": [
    {"data": {"name": "obs"}, "transform": [{"filter": "datum.p === 'W'"}], "mark": {"type": "line", "stroke": "#000000", "strokeWidth": 1}},
    {"data": {"name": "smooth"}, "transform": [{"filter": "datum.p === 'W'"}], "mark": {"type": "line", "stroke": "#000000", "strokeWidth": 3, "interpolate": "monotone"}},
    {"data": {"name": "trend"}, "transform": [{"filter": "datum.p === 'W'"}], "mark": {"type": "line", "strokeWidth": 1.7},
     "encoding": {"color": {"field": "k", "type": "nominal", "scale": {"domain": ["all","early","late"], "range": ["#000000","#0000ff","#ff0000"]}, "legend": null}}},
    {"data": {"name": "eq"}, "transform": [{"filter": "datum.p === 'W'"}], "mark": {"type": "text", "fontSize": 14, "font": "Liberation Sans"},
     "encoding": {"text": {"field": "label"}, "color": {"field": "k", "type": "nominal", "scale": {"domain": ["all","early","late"], "range": ["#000000","#0000ff","#ff0000"]}, "legend": null}}}
   ]},
  {"width": 580, "height": 348,
   "title": {"text": "Naoblaka", "dx": 0},
   "encoding": {
    "x": {"field": "t", "type": "quantitative", "scale": {"domain": [1949, 2008], "range": [40, 562], "nice": false, "zero": false},
          "axis": {"values": [1949,1959,1969,1979,1989,1999], "format": "d", "offset": -50.5, "title": "t (godine)", "labelFlush": false, "grid": false}},
    "y": {"field": "v", "type": "quantitative", "scale": {"domain": [-1, 1], "range": [297.5, 34], "nice": false, "zero": false},
          "axis": {"values": [-1,-0.8,-0.6,-0.4,-0.2,0,0.2,0.4,0.6,0.8,1], "format": ".1f", "offset": -40, "labelPadding": 6, "title": "desetine", "titleAngle": 0, "titleAlign": "left", "titleBaseline": "middle", "titleX": -36, "titleY": 13, "titleFontSize": 13,
                   "gridColor": {"condition": {"test": "datum.value === 1", "value": "#c0c0c0"}, "value": "#000000"}}}
   },
   "layer": [
    {"data": {"name": "obs"}, "transform": [{"filter": "datum.p === 'C'"}], "mark": {"type": "line", "stroke": "#000000", "strokeWidth": 1}},
    {"data": {"name": "smooth"}, "transform": [{"filter": "datum.p === 'C'"}], "mark": {"type": "line", "stroke": "#000000", "strokeWidth": 3, "interpolate": "monotone"}},
    {"data": {"name": "trend"}, "transform": [{"filter": "datum.p === 'C'"}], "mark": {"type": "line", "strokeWidth": 1.7},
     "encoding": {"color": {"field": "k", "type": "nominal", "scale": {"domain": ["all","early","late"], "range": ["#000000","#0000ff","#ff0000"]}, "legend": null}}},
    {"data": {"name": "eq"}, "transform": [{"filter": "datum.p === 'C'"}], "mark": {"type": "text", "fontSize": 14, "font": "Liberation Sans"},
     "encoding": {"text": {"field": "label"}, "color": {"field": "k", "type": "nominal", "scale": {"domain": ["all","early","late"], "range": ["#000000","#0000ff","#ff0000"]}, "legend": null}}}
   ]}
 ], "spacing": 21, "bounds": "flush"}
],
"spacing": 27
}
